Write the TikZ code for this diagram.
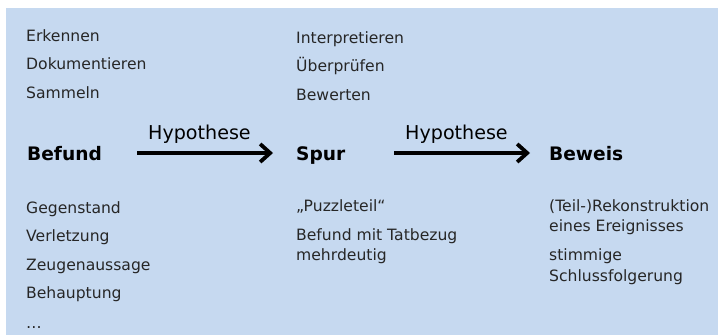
\documentclass[tikz,border=0pt]{standalone}
\usepackage{fontspec}
\setmainfont{DejaVu Sans}
\usetikzlibrary{arrows.meta}
\definecolor{bgblue}{HTML}{C6D9F0}
\definecolor{txtgray}{HTML}{262626}
\begin{document}
\begin{tikzpicture}[x=1pt,y=-1pt,
  txt/.style={anchor=base west,inner sep=0pt,text=txtgray,font=\fontsize{15.6}{20}\selectfont},
  head/.style={anchor=base west,inner sep=0pt,text=black,font=\fontsize{18.6}{22}\selectfont\bfseries},
  hyp/.style={anchor=base west,inner sep=0pt,text=black,font=\fontsize{19.1}{23}\selectfont},
  arr/.style={line width=3.8pt,-{Straight Barb[length=10pt,width=18pt]}}]
\useasboundingbox (0,0) rectangle (718,335);
\fill[bgblue] (6,8) rectangle (718,335);
% column 1
\node[txt] (e1) at (26,41) {Erkennen};
\node[txt] (e2) at (26,69.5) {Dokumentieren};
\node[txt] (e3) at (26,98) {Sammeln};
\node[head] (befund) at (27,160.5) {Befund};
\node[txt] (g1) at (26,213) {Gegenstand};
\node[txt] (g2) at (26,241.5) {Verletzung};
\node[txt] (g3) at (26,270) {Zeugenaussage};
\node[txt] (g4) at (26,298.5) {Behauptung};
\node[txt] (g5) at (26,328) {\ldots};
% column 2
\node[txt] (i1) at (296,43) {Interpretieren};
\node[txt] (i2) at (296,71.5) {Überprüfen};
\node[txt] (i3) at (296,100) {Bewerten};
\node[head] (spur) at (296,160.5) {Spur};
\node[txt] (p1) at (296,211.5) {„Puzzleteil“};
\node[txt] (p2) at (296,240) {Befund mit Tatbezug};
\node[txt] (p3) at (296,260) {mehrdeutig};
% column 3
\node[head] (beweis) at (549,160.5) {Beweis};
\node[txt] (r1) at (549,211) {(Teil-)Rekonstruktion};
\node[txt] (r2) at (549,231.5) {eines Ereignisses};
\node[txt] (r3) at (549,260) {stimmige};
\node[txt] (r4) at (549,281.5) {Schlussfolgerung};
% hypotheses
\node[hyp] (h1) at (148,139.3) {Hypothese};
\node[hyp] (h2) at (405,139.3) {Hypothese};
\draw[arr,shorten <=35.3pt,shorten >=23pt]
  ([yshift=7.5pt]befund.base east) -- ([yshift=7.5pt]spur.base west);
\draw[arr,shorten <=48.9pt,shorten >=19pt]
  ([yshift=7.5pt]spur.base east) -- ([yshift=7.5pt]beweis.base west);
\end{tikzpicture}
\end{document}
